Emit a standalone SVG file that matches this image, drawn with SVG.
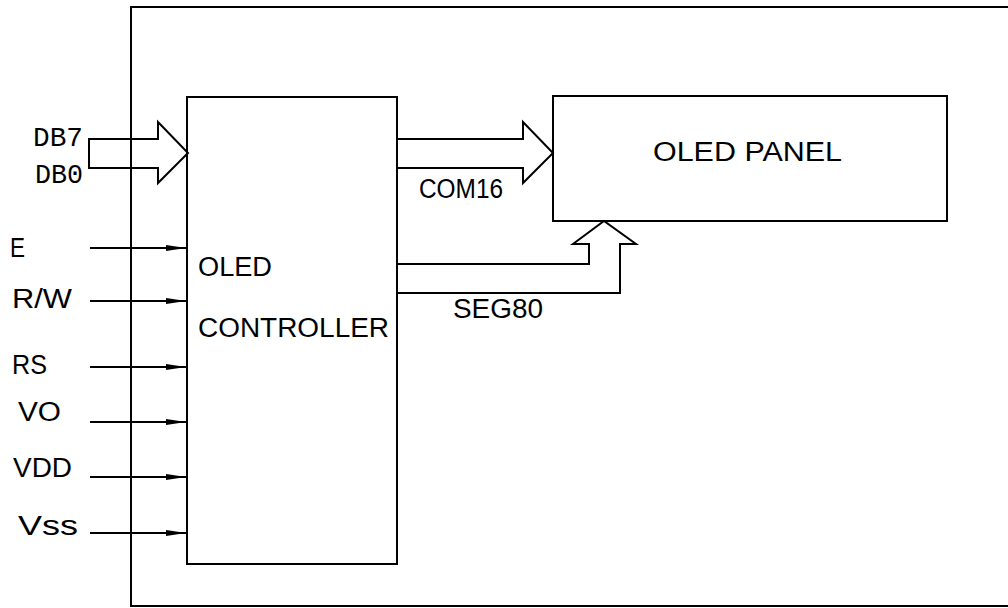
<svg xmlns="http://www.w3.org/2000/svg" width="1008" height="608" viewBox="0 0 1008 608">
<style>
.ln{fill:none;stroke:#000;stroke-width:2}
.t{font-family:"Liberation Sans","DejaVu Sans",sans-serif;font-size:27px;fill:#000}
.m{font-family:"Liberation Mono","DejaVu Sans Mono",monospace;font-size:28px;fill:#000}
</style>
<defs>
<marker id="ah" markerUnits="userSpaceOnUse" markerWidth="20" markerHeight="8" refX="20" refY="4" orient="auto">
<path d="M0,1 L20,4 L0,7 Z" fill="#000"/>
</marker>
</defs>
<rect id="frame" class="ln" x="131" y="7" width="880" height="599"/>
<g id="controller">
<rect class="ln" x="187" y="97" width="210" height="467"/>
<text class="t" x="198" y="276" textLength="74" lengthAdjust="spacingAndGlyphs">OLED</text>
<text class="t" x="198" y="337" textLength="191" lengthAdjust="spacingAndGlyphs">CONTROLLER</text>
</g>
<g id="panel">
<rect class="ln" x="553" y="96" width="394" height="125"/>
<text class="t" x="653" y="161" textLength="189" lengthAdjust="spacingAndGlyphs">OLED PANEL</text>
</g>
<g id="connectors">
<polygon class="ln" points="89,139 158,139 158,122 188,153 158,183 158,168 89,168"/>
<polyline class="ln" points="397,139 523,139 523,122 553,153 523,183 523,168 397,168"/>
<polyline class="ln" points="397,264 589,264 589,244 573,244 604,221 636,244 620,244 620,293 397,293"/>
<line class="ln" x1="90" y1="248" x2="186" y2="248" marker-end="url(#ah)"/>
<line class="ln" x1="90" y1="301" x2="186" y2="301" marker-end="url(#ah)"/>
<line class="ln" x1="90" y1="367" x2="186" y2="367" marker-end="url(#ah)"/>
<line class="ln" x1="90" y1="422" x2="186" y2="422" marker-end="url(#ah)"/>
<line class="ln" x1="90" y1="477" x2="186" y2="477" marker-end="url(#ah)"/>
<line class="ln" x1="90" y1="533" x2="186" y2="533" marker-end="url(#ah)"/>
</g>
<g id="labels">
<text class="m" x="33" y="146" textLength="50" lengthAdjust="spacingAndGlyphs">DB7</text>
<text class="m" x="35" y="183" textLength="48" lengthAdjust="spacingAndGlyphs">DB0</text>
<text class="t" x="10" y="257" textLength="15" lengthAdjust="spacingAndGlyphs">E</text>
<text class="t" x="12" y="308" textLength="60" lengthAdjust="spacingAndGlyphs">R/W</text>
<text class="t" x="12" y="374" textLength="35" lengthAdjust="spacingAndGlyphs">RS</text>
<text class="t" x="18" y="421" textLength="43" lengthAdjust="spacingAndGlyphs">VO</text>
<text class="t" x="13" y="477" textLength="59" lengthAdjust="spacingAndGlyphs">VDD</text>
<text class="t" x="18" y="535" textLength="60" lengthAdjust="spacingAndGlyphs">Vss</text>
<text class="t" x="419" y="198" textLength="84" lengthAdjust="spacingAndGlyphs">COM16</text>
<text class="t" x="453" y="318" textLength="90" lengthAdjust="spacingAndGlyphs">SEG80</text>
</g>
</svg>
